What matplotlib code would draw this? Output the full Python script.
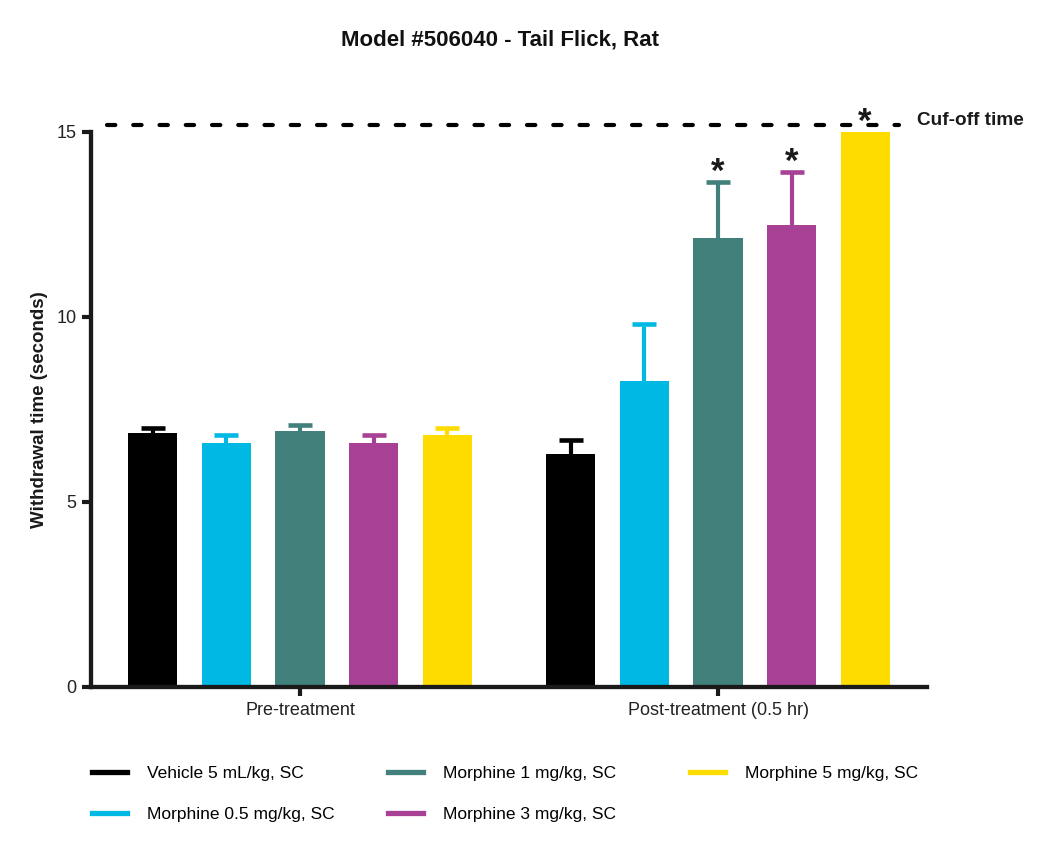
import numpy as np
import matplotlib
matplotlib.use("Agg")
import matplotlib.pyplot as plt

plt.rcParams['font.family'] = ['Liberation Sans', 'DejaVu Sans']

# data
groups = ["Pre-treatment", "Post-treatment (0.5 hr)"]
treatments = ["Vehicle 5 mL/kg, SC", "Morphine 0.5 mg/kg, SC", "Morphine 1 mg/kg, SC",
              "Morphine 3 mg/kg, SC", "Morphine 5 mg/kg, SC"]
colors = ["#000000", "#00B8E4", "#42807C", "#A84096", "#FFDC00"]
pre_mean = [6.86, 6.58, 6.92, 6.58, 6.81]
pre_err_top = [6.99, 6.80, 7.07, 6.82, 7.00]
post_mean = [6.29, 8.27, 12.14, 12.48, 15.0]
post_err_top = [6.68, 9.81, 13.65, 13.93, 15.0]
significant = [False, False, True, True, True]
cutoff = 15.2

means = np.array([pre_mean, post_mean])
err_top = np.array([pre_err_top, post_err_top])

fig = plt.figure(figsize=(10.5, 8.48), dpi=100)
ax = fig.add_axes([0.0867, 0.1899, 0.7962, 0.6545])

pitch = 0.176
width = 0.1175
axis_col = "#1a1a1a"

for i, name in enumerate(treatments):
    x = np.arange(len(groups)) + (i - 2) * pitch
    ax.bar(x, means[:, i], width=width, color=colors[i], label=name, zorder=2)
    up = err_top[:, i] - means[:, i]
    has_err = up > 0
    if has_err.any():
        eb = ax.errorbar(x[has_err], means[has_err, i],
                         yerr=[np.zeros(has_err.sum()), up[has_err]],
                         fmt='none', ecolor=colors[i], elinewidth=3,
                         capsize=8.6, capthick=3.3, zorder=1)
        eb[1][0].set_visible(False)  # hide the lower caps
    # asterisks on the post-treatment bars
    if significant[i]:
        ax.text(x[1], err_top[1, i], "*", ha='center', va='baseline',
                fontsize=25, fontweight='bold', color='#1a1a1a', clip_on=False)

# cut-off line
ax.plot([-0.463, 1.432], [cutoff, cutoff], color='black', lw=3,
        ls=(0, (2, 4.3)), dash_capstyle='round', clip_on=False, zorder=3)
ax.text(1.477, cutoff, "Cuf-off time", ha='left', va='baseline',
        fontsize=13.7, fontweight='bold', color='#1a1a1a', clip_on=False)

ax.set_xlim(-0.5, 1.5)
ax.set_ylim(0, 15)
ax.set_yticks([0, 5, 10, 15])
ax.set_xticks([0, 1])
ax.set_xticklabels(groups)
ax.set_ylabel("Withdrawal time (seconds)", fontsize=13.5, fontweight='bold',
              color='#1a1a1a', labelpad=6)

for side in ['top', 'right']:
    ax.spines[side].set_visible(False)
for side in ['left', 'bottom']:
    ax.spines[side].set_linewidth(3.1)
    ax.spines[side].set_color(axis_col)
ax.spines['left'].set_bounds(0, 15)
ax.tick_params(axis='both', direction='out', length=6.5, width=3, color=axis_col,
               labelsize=13, labelcolor='#222222', pad=4)

fig.text(500 / 1050, 0.953, "Model #506040 - Tail Flick, Rat", ha='center', va='center',
         fontsize=16, fontweight='bold', color='#111111')

# legend: three columns placed separately (column-major order like Prism)
proxies = [plt.Line2D([], [], color=c, lw=3.8) for c in colors]
columns = [[0, 1], [2, 3], [4]]
col_left = [92, 388, 690]
for idx, left in zip(columns, col_left):
    leg = fig.legend([proxies[k] for k in idx], [treatments[k] for k in idx],
                     loc='upper left', bbox_to_anchor=(left / 1050, (848 - 766) / 848),
                     ncol=1, frameon=False, fontsize=12.5, handlelength=2.0,
                     handletextpad=1.15, labelspacing=1.5, borderpad=0, borderaxespad=0)

fig.savefig("out.png", dpi=100)
